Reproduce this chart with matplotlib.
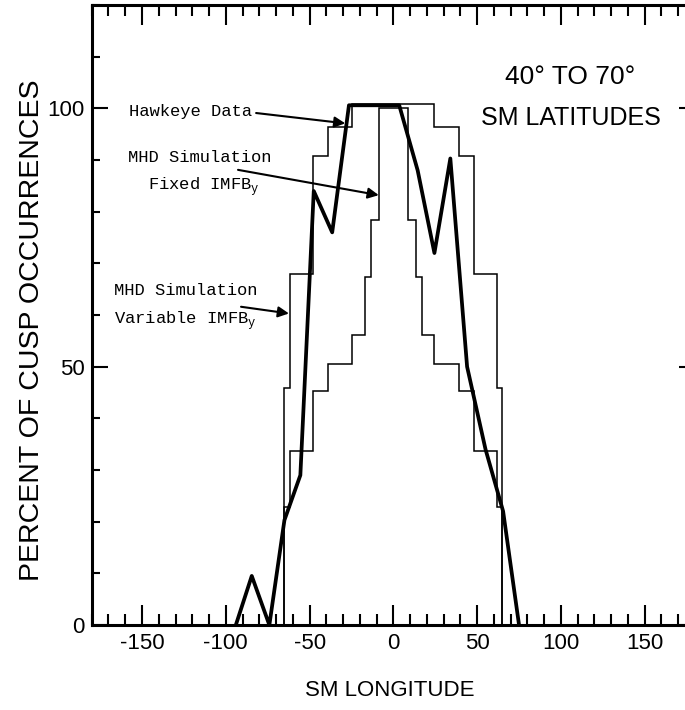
import matplotlib.pyplot as plt
from matplotlib.ticker import MultipleLocator

plt.rcParams['font.family'] = ['Liberation Sans', 'DejaVu Sans']
plt.rcParams['axes.unicode_minus'] = False
plt.rcParams['mathtext.fontset'] = 'custom'
plt.rcParams['mathtext.rm'] = 'Liberation Mono'

# Hawkeye observations (thick line)
hawk_lon = [-94, -84.5, -74, -65, -55.5, -47.5, -36.5, -26.5, 3.5, 14.5, 24.5, 34, 44, 55, 65.5, 75]
hawk_pct = [0, 9.5, 0, 20.3, 29, 84, 76, 100.6, 100.6, 88, 72, 90.3, 50, 34, 22, 0]

# MHD simulation, variable IMF By (outer steps)
var_edges = [-65.1, -61.9, -48.2, -39, -24.5, 24.5, 39, 48.2, 61.9, 65.1]
var_pct = [45.8, 68, 90.8, 96.4, 100.8, 96.4, 90.8, 68, 45.8]

# MHD simulation, fixed IMF By (inner steps)
fix_edges = [-65.1, -61.9, -48.2, -39, -24.5, -17, -13.5, -8.8,
             8.8, 13.5, 17, 24.5, 39, 48.2, 61.9, 65.1]
fix_pct = [22.9, 33.7, 45.3, 50.6, 56.1, 67.4, 78.4, 100,
           78.4, 67.4, 56.1, 50.6, 45.3, 33.7, 22.9]

xticks = [-150, -100, -50, 0, 50, 100, 150]
yticks = [0, 50, 100]

fig = plt.figure(figsize=(6.85, 7.10), dpi=100)
ax = fig.add_axes([0.1339, 0.1197, 0.8807, 0.8732])

ax.stairs(var_pct, var_edges, baseline=0, color='k', lw=1.1)
ax.stairs(fix_pct, fix_edges, baseline=0, color='k', lw=1.1)
ax.plot(hawk_lon, hawk_pct, color='k', lw=2.7)

ax.set_xlim(-180, 180)
ax.set_ylim(0, 120)
ax.set_xticks(xticks)
ax.set_yticks(yticks)
ax.xaxis.set_minor_locator(MultipleLocator(10))
ax.yaxis.set_minor_locator(MultipleLocator(10))
ax.tick_params(which='both', direction='in', top=True, right=True, width=1.5, labelsize=16)
ax.tick_params(axis='x', which='major', length=14.4, pad=6)
ax.tick_params(axis='x', which='minor', length=8)
ax.tick_params(axis='y', which='major', length=11.5, pad=5)
ax.tick_params(axis='y', which='minor', length=6)
for s in ax.spines.values():
    s.set_linewidth(2.2)

fig.text(390 / 685, 1 - 690 / 710, 'SM LONGITUDE', fontsize=16, ha='center', va='center')
fig.text(32 / 685, 1 - 330 / 710, 'PERCENT OF CUSP OCCURRENCES', fontsize=20.5,
         rotation=90, ha='center', va='center')

ax.text(105.7, 106, '40° TO 70°', fontsize=19, ha='center', va='center')
ax.text(105.8, 98.1, 'SM LATITUDES', fontsize=18, ha='center', va='center')

mono = dict(family='Liberation Mono', fontsize=12.3, ha='left', va='center')
arrow = dict(arrowstyle='-|>', color='k', lw=1.5, mutation_scale=16, shrinkA=0, shrinkB=0)

ax.text(-157.7, 99.3, 'Hawkeye Data', **mono)
ax.annotate('', xy=(-28.7, 97.1), xytext=(-81.9, 99.1), arrowprops=arrow)

ax.text(-158.6, 90.4, 'MHD Simulation', **mono)
ax.text(-146.7, 84.8, r'Fixed IMFB$_\mathrm{y}$', **mono)
ax.annotate('', xy=(-8.7, 83.2), xytext=(-92.7, 88.1), arrowprops=arrow)

ax.text(-166.5, 64.8, 'MHD Simulation', **mono)
ax.text(-166.5, 59.0, r'Variable IMFB$_\mathrm{y}$', **mono)
ax.annotate('', xy=(-62.3, 60.3), xytext=(-90.9, 61.6), arrowprops=arrow)

fig.savefig('out.png', dpi=100)
